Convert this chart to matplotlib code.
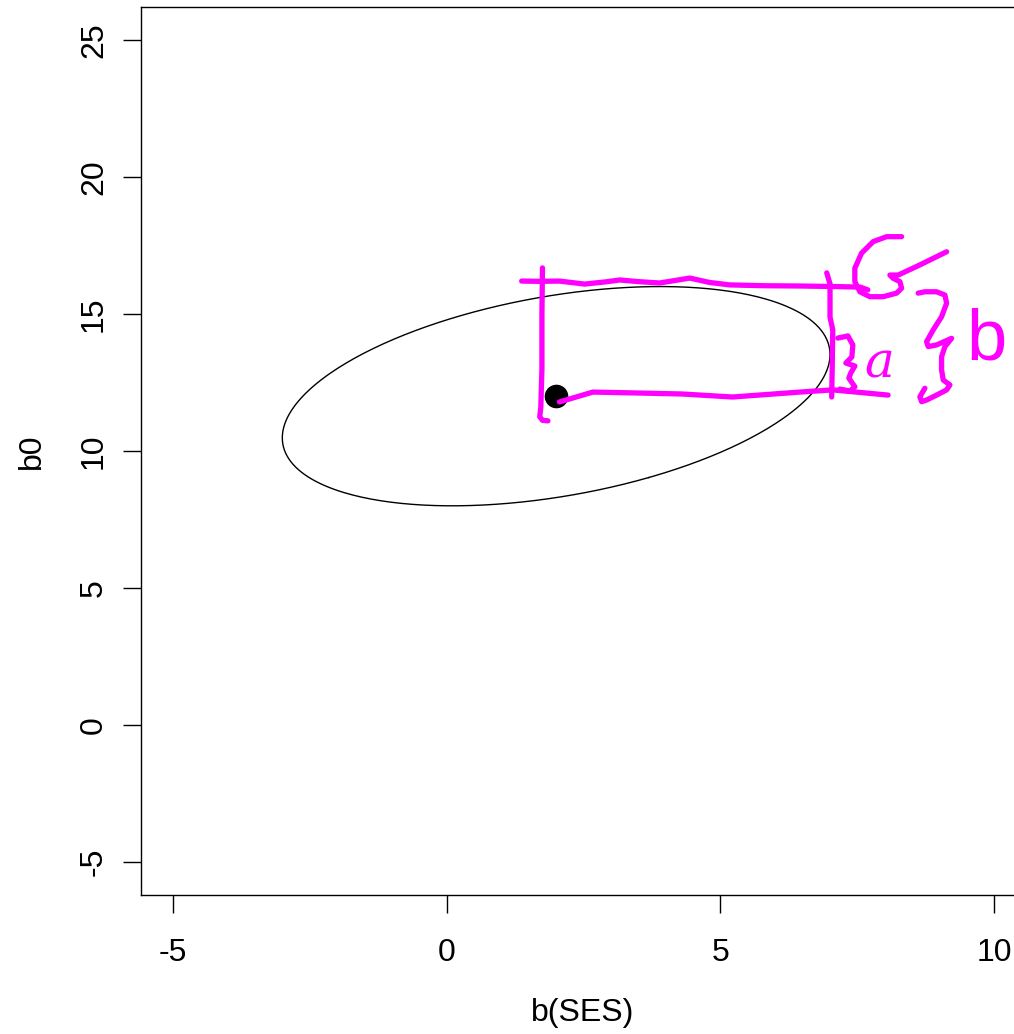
import numpy as np
import matplotlib
matplotlib.use('Agg')
from matplotlib import pyplot as plt

plt.rcParams['font.family'] = ['Liberation Sans', 'DejaVu Sans']
plt.rcParams['axes.unicode_minus'] = False

# estimate and its confidence ellipse (covariance)
center = [2.0, 12.0]
cov = [[25.0, 7.6], [7.6, 16.0]]

xticks = [-5, 0, 5, 10]
yticks = [-5, 0, 5, 10, 15, 20, 25]

# hand drawn magenta strokes, in data units
top_x = [1.37, 1.7, 2.06, 2.52, 2.9, 3.16, 3.5, 3.89, 4.44, 4.8, 5.17, 5.8, 6.45, 7.1, 7.55, 7.69]
top_y = [16.20, 16.19, 16.20, 16.09, 16.17, 16.24, 16.18, 16.13, 16.31, 16.15, 16.06, 16.03, 16.02, 16.0, 15.98, 15.88]
curl_x = [8.307, 8.033, 7.788, 7.576, 7.453, 7.453, 7.545, 7.727, 7.970, 8.215, 8.307,
          8.276, 8.153, 8.093, 8.245, 8.641, 9.129]
curl_y = [17.82, 17.82, 17.64, 17.22, 16.67, 16.18, 15.81, 15.63, 15.63, 15.76, 15.94,
          16.18, 16.30, 16.42, 16.42, 16.79, 17.27]
left_x = [1.75, 1.74, 1.74, 1.72, 1.70, 1.75, 1.85]
left_y = [16.68, 15.0, 13.0, 11.60, 11.25, 11.12, 11.10]
bot_x = [2.06, 2.67, 3.40, 4.3, 5.22, 6.45, 7.05, 8.06]
bot_y = [11.79, 12.15, 12.12, 12.08, 11.97, 12.15, 12.23, 12.04]
right_x = [6.94, 7.00, 7.00, 7.05, 7.04, 7.03]
right_y = [16.50, 16.10, 14.89, 14.42, 13.0, 11.97]
brace_a_x = [7.143, 7.326, 7.417, 7.398, 7.289, 7.454, 7.380, 7.344, 7.454, 7.362, 7.179]
brace_a_y = [14.12, 14.20, 13.87, 13.43, 13.21, 13.10, 12.85, 12.66, 12.34, 12.19, 12.26]
brace_b_x = [8.610, 8.732, 8.946, 9.098, 9.129, 9.037, 8.884, 8.763, 8.793, 8.946, 9.220,
             9.098, 9.037, 9.037, 9.067, 9.189, 9.129, 8.946, 8.763, 8.672, 8.641, 8.732]
brace_b_y = [15.76, 15.81, 15.81, 15.69, 15.39, 14.90, 14.42, 13.99, 13.81, 13.87, 14.11,
             13.81, 13.44, 12.96, 12.59, 12.41, 12.23, 12.04, 11.86, 11.80, 11.98, 12.29]

fig = plt.figure(figsize=(10.14, 10.34), dpi=100)
ax = fig.add_axes([141 / 1014, 139 / 1034, 884 / 1014, 888 / 1034])

# ellipse from the covariance
vals, vecs = np.linalg.eigh(np.array(cov))
t = np.linspace(0, 2 * np.pi, 400)
circ = np.vstack([np.cos(t), np.sin(t)])
pts = vecs @ (np.sqrt(vals)[:, None] * circ)
ax.plot(center[0] + pts[0], center[1] + pts[1], color='k', lw=1)
ax.plot(center[0], center[1], 'o', color='k', ms=16)

mag = '#ff00ff'
for xs, ys in [(top_x, top_y), (curl_x, curl_y), (left_x, left_y), (bot_x, bot_y),
               (right_x, right_y), (brace_a_x, brace_a_y), (brace_b_x, brace_b_y)]:
    ax.plot(xs, ys, color=mag, lw=3.8, solid_capstyle='round', solid_joinstyle='round')
ax.text(7.89, 13.2, 'a', color=mag, fontsize=36, family='DejaVu Serif', style='italic',
        ha='center', va='center')
ax.text(9.85, 14.0, 'b', color=mag, fontsize=52, ha='center', va='center')

ax.set_xlim(-5.58, 10.56)
ax.set_ylim(-6.2, 26.2)
ax.set_xticks(xticks)
ax.set_yticks(yticks)
ax.tick_params(direction='out', length=13, width=1, labelsize=23, color='k')
ax.tick_params(axis='x', pad=18)
ax.tick_params(axis='y', pad=10, labelrotation=90)
for lab in ax.get_yticklabels():
    lab.set_va('center')
for s in ax.spines.values():
    s.set_linewidth(1)

ax.set_xlabel('b(SES)', fontsize=23)
ax.set_ylabel('b0', fontsize=23)
ax.xaxis.set_label_coords(0.5, -(1013 - 895) / 888)
ax.xaxis.label.set_va('center')
ax.yaxis.set_label_coords((32 - 141) / 884, 0.5)
ax.yaxis.label.set_va('center')

fig.savefig('out.png', dpi=100)
